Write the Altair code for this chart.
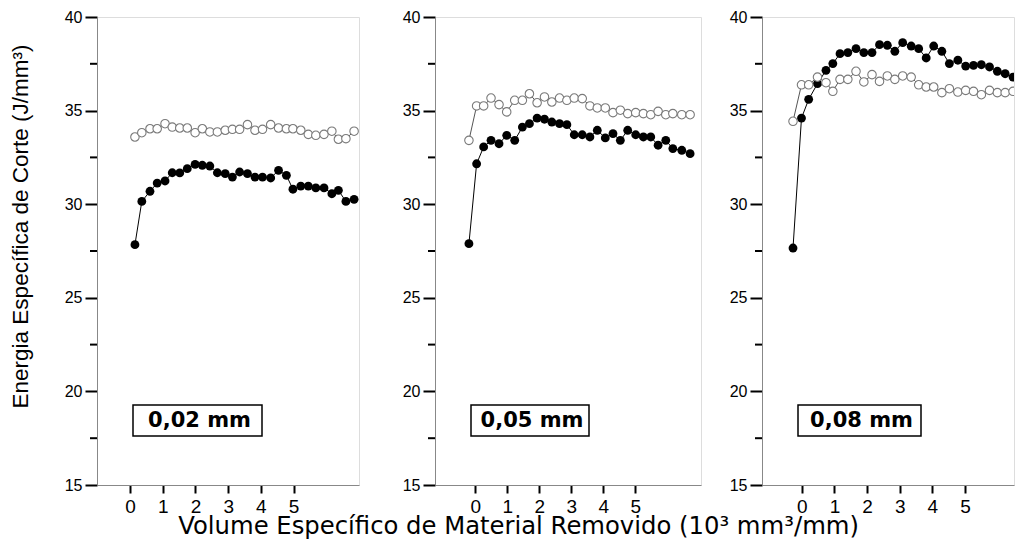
import altair as alt
import pandas as pd

# ---------------- data ----------------
x_p1 = [0.15, 0.36, 0.61, 0.83, 1.07, 1.29, 1.52, 1.75, 1.99, 2.21, 2.44, 2.67, 2.91, 3.13, 3.35,
        3.59, 3.82, 4.05, 4.30, 4.54, 4.78, 4.98, 5.22, 5.45, 5.68, 5.93, 6.17, 6.37, 6.60, 6.85]
black_p1 = [27.84, 30.15, 30.69, 31.13, 31.24, 31.68, 31.67, 31.90, 32.13, 32.08, 32.04, 31.68, 31.63, 31.45, 31.72,
            31.63, 31.45, 31.45, 31.40, 31.81, 31.54, 30.80, 30.97, 30.97, 30.87, 30.87, 30.56, 30.74, 30.15, 30.26]
white_p1 = [33.59, 33.82, 34.03, 34.03, 34.30, 34.12, 34.07, 34.07, 33.82, 34.03, 33.86, 33.86, 33.95, 34.00, 34.00,
            34.25, 33.95, 34.00, 34.25, 34.07, 34.03, 34.03, 33.95, 33.73, 33.68, 33.73, 33.90, 33.47, 33.50, 33.90]

x_p2 = [-0.20, 0.04, 0.26, 0.49, 0.74, 0.98, 1.23, 1.47, 1.69, 1.93, 2.16, 2.39, 2.63, 2.86, 3.09,
        3.34, 3.58, 3.81, 4.06, 4.30, 4.53, 4.76, 5.01, 5.25, 5.48, 5.71, 5.95, 6.17, 6.45, 6.71]
black_p2 = [27.89, 32.16, 33.06, 33.41, 33.23, 33.68, 33.41, 34.12, 34.30, 34.60, 34.54, 34.39, 34.30, 34.25, 33.71,
            33.71, 33.59, 33.95, 33.54, 33.77, 33.41, 33.95, 33.71, 33.59, 33.59, 33.15, 33.41, 32.97, 32.88, 32.70]
white_p2 = [33.41, 35.25, 35.25, 35.67, 35.32, 34.93, 35.55, 35.55, 35.90, 35.42, 35.73, 35.46, 35.67, 35.55, 35.67,
            35.64, 35.25, 35.14, 35.14, 34.89, 35.02, 34.84, 34.89, 34.84, 34.78, 34.96, 34.78, 34.84, 34.78, 34.78]

x_p3 = [-0.27, -0.01, 0.21, 0.48, 0.74, 0.95, 1.17, 1.41, 1.66, 1.90, 2.15, 2.38, 2.62, 2.85, 3.09,
        3.35, 3.58, 3.81, 4.04, 4.29, 4.52, 4.78, 5.02, 5.26, 5.50, 5.75, 5.99, 6.23, 6.47, 6.69]
black_p3 = [27.66, 34.60, 35.60, 36.44, 37.15, 37.51, 38.04, 38.10, 38.31, 38.10, 38.10, 38.52, 38.49, 38.17, 38.63,
            38.45, 38.31, 37.81, 38.45, 38.17, 37.51, 37.69, 37.38, 37.42, 37.45, 37.33, 37.10, 36.97, 36.79, 36.56]
white_p3 = [34.43, 36.38, 36.38, 36.79, 36.49, 36.03, 36.67, 36.67, 37.10, 36.53, 36.92, 36.56, 36.85, 36.67, 36.85,
            36.79, 36.38, 36.26, 36.26, 35.96, 36.17, 35.99, 36.08, 36.03, 35.85, 36.08, 35.96, 35.96, 36.03, 35.90]

panel_labels = ["0,02 mm", "0,05 mm", "0,08 mm"]
x_tick_values = [0, 1, 2, 3, 4, 5]
y_major_ticks = [15, 20, 25, 30, 35, 40]
y_minor_ticks = [17.5, 22.5, 27.5, 32.5, 37.5]

y_title = "Energia Específica de Corte (J/mm³)"
x_title = "Volume Específico de Material Removido (10³ mm³/mm)"

FONT = "DejaVu Sans"
H = 468
TICK_COLOR = "black"
TICK_W = 2


def panel(xs, blacks, whites, label, domain, width, box, first, spacer=None, clip=False):
    df_b = pd.DataFrame({"x": xs, "y": blacks})
    df_w = pd.DataFrame({"x": xs, "y": whites})
    x_enc = alt.X(
        "x:Q",
        scale=alt.Scale(domain=domain, nice=False, zero=False),
        axis=alt.Axis(values=x_tick_values, title=None, ticks=True, tickSize=8, tickColor=TICK_COLOR,
                      tickWidth=TICK_W, labelPadding=4, labelFontSize=19, grid=False, format="d"),
    )
    y_axis_kw = dict(values=y_major_ticks, ticks=True, tickSize=12, tickColor=TICK_COLOR, tickWidth=TICK_W,
                     labelPadding=3, labelFontSize=16, grid=False)
    if first:
        y_axis_kw.update(title=y_title, titleFontSize=22.5, titlePadding=32, titleY=209,
                         titleFontWeight="normal")
    else:
        y_axis_kw.update(title=None)
    y_enc = alt.Y("y:Q", scale=alt.Scale(domain=[15, 40], nice=False, zero=False),
                  axis=alt.Axis(**y_axis_kw))

    line_b = alt.Chart(df_b).mark_line(color="black", strokeWidth=1, clip=clip).encode(x=x_enc, y=y_enc)
    pts_b = alt.Chart(df_b).mark_circle(color="black", size=78, opacity=1, clip=clip).encode(x=x_enc, y=y_enc)
    line_w = alt.Chart(df_w).mark_line(color="#555555", strokeWidth=1, clip=clip).encode(x=x_enc, y=y_enc)
    pts_w = alt.Chart(df_w).mark_point(shape="circle", filled=True, fill="white", stroke="#7a7a7a",
                                       strokeWidth=1.1, size=72, opacity=1, clip=clip).encode(x=x_enc, y=y_enc)

    # minor tick marks drawn as rules through the panel's own y scale
    ymin = alt.Chart(pd.DataFrame({"y": y_minor_ticks})).mark_rule(color=TICK_COLOR, strokeWidth=TICK_W).encode(
        y=y_enc, x=alt.value(-7), x2=alt.value(0))

    lab = pd.DataFrame({"label": [label]})
    rect = alt.Chart(lab).mark_rect(fill="white", stroke="black", strokeWidth=1.5).encode(
        x=alt.value(box[0]), x2=alt.value(box[1]), y=alt.value(388), y2=alt.value(419))
    txt = alt.Chart(lab).mark_text(font=FONT, fontSize=21, fontWeight="bold", color="black",
                                   align="center", baseline="middle").encode(
        text="label:N", x=alt.value((box[0] + box[1]) / 2 + 2), y=alt.value(404))

    layers = [line_b, pts_b, line_w, pts_w, ymin, rect, txt]
    if spacer is not None:
        sp = alt.Chart(lab).mark_rule(color="white", strokeWidth=1).encode(
            x=alt.value(spacer), y=alt.value(0), y2=alt.value(1))
        layers.append(sp)
    return alt.layer(*layers).properties(width=width, height=H)


p1 = panel(x_p1, black_p1, white_p1, panel_labels[0], [-1.01, 7.0], 262, (36, 165), True, spacer=277)
p2 = panel(x_p2, black_p2, white_p2, panel_labels[1], [-1.26, 7.05], 266, (36, 154), False)
p3 = panel(x_p3, black_p3, white_p3, panel_labels[2], [-1.22, 6.5], 252, (36, 159), False, clip=True)

chart = alt.hconcat(p1, p2, p3, spacing=26).properties(
    title=alt.TitleParams(x_title, orient="bottom", anchor="middle", fontSize=24.3,
                          fontWeight="normal", font=FONT, offset=-2, dx=7, color="black"),
    padding={"left": 0, "top": 0, "right": 0, "bottom": 0},
).configure_view(stroke=None).configure_axis(
    labelFont=FONT, titleFont=FONT, labelColor="black", titleColor="black",
    domainColor="black", domainWidth=1,
).configure(background="white")

chart.save("out.html", embed_options={"renderer": "svg", "actions": False})
